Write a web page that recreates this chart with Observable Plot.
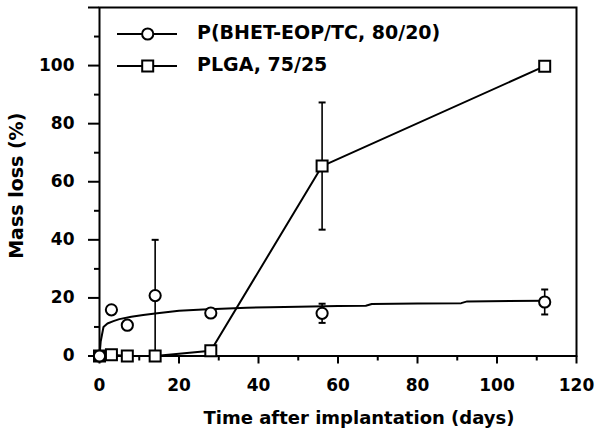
<!DOCTYPE html>
<html><head><meta charset="utf-8">
<script src="https://cdn.jsdelivr.net/npm/d3@7"></script>
<script src="https://cdn.jsdelivr.net/npm/@observablehq/plot@0.6"></script>
<style>
html,body{margin:0;padding:0;background:#fff;}
#chart{position:relative;width:600px;height:443px;overflow:hidden;}
#legend{position:absolute;left:0;top:0;}
</style></head><body>
<div id="chart"></div>
<script>
// ---- data ----
const circleDays = [0, 3, 7, 14, 28, 56, 112];
const circleLoss = [0, 15.9, 10.6, 20.8, 14.8, 14.7, 18.6];
const circleErr  = [0, 0, 0, 19.2, 0, 3.3, 4.3];

const fitDays = [0, 0.3, 1, 2, 3.5, 5, 8, 11, 14, 20, 26, 37, 43, 50, 60, 67, 68.5, 80, 91, 92.5, 112];
const fitLoss = [0, 5, 10, 11.2, 12, 12.7, 13.5, 14.1, 14.6, 15.6, 16, 16.6, 16.8, 17, 17.2, 17.3, 17.9, 18.1, 18.2, 18.8, 19];

const plgaDays = [0, 3, 7, 14, 28, 56, 112];
const plgaLoss = [0, 0.4, 0, 0, 1.8, 65.4, 99.8];
const plgaErr  = [0, 0, 0, 0, 0, 21.9, 0];

const xMajorTicks = [0, 20, 40, 60, 80, 100, 120];
const xTickLabels = ["0", "20", "40", "60", "80", "100", "120"];
const xMinorTicks = [10, 30, 50, 70, 90, 110];
const yMajorTicks = [0, 20, 40, 60, 80, 100];
const yTickLabels = ["0", "20", "40", "60", "80", "100"];
const yMinorTicks = [10, 30, 50, 70, 90, 110];
const yTopTick = [120];

const legendLabels = ["P(BHET-EOP/TC, 80/20)", "PLGA, 75/25"];
const xTitle = "Time after implantation (days)";
const yTitle = "Mass loss (%)";

// ---- build tables ----
const circleRows = circleDays.map((d, i) => ({x: d, y: circleLoss[i], e: circleErr[i]}));
const plgaRows = plgaDays.map((d, i) => ({x: d, y: plgaLoss[i], e: plgaErr[i]}));
const fitRows = fitDays.map((d, i) => ({x: d, y: fitLoss[i]}));
const errRows = [...circleRows, ...plgaRows].filter(r => r.e > 0)
  .map(r => ({x: r.x, lo: r.y - r.e, hi: r.y + r.e}));
const capRows = errRows.flatMap(r => [{x: r.x, y: r.lo}, {x: r.x, y: r.hi}]);

const capSymbol = {draw(context) { context.moveTo(-3.5, 0); context.lineTo(3.5, 0); }};

const chart = Plot.plot({
  width: 600, height: 443,
  marginLeft: 99, marginRight: 24, marginTop: 7, marginBottom: 87.5,
  x: {domain: [0, 120]},
  y: {domain: [0, 120]},
  style: {fontFamily: "'DejaVu Sans', sans-serif", fontWeight: "bold", fontSize: "17px", color: "#000", background: "#fff", overflow: "visible"},
  marks: [
    Plot.axisX({ticks: xMajorTicks, tickSize: 8, tickPadding: 15, strokeWidth: 2, label: null,
      tickFormat: d => xTickLabels[xMajorTicks.indexOf(d)]}),
    Plot.axisX({ticks: xMinorTicks, tickSize: 5, strokeWidth: 2, label: null, tickFormat: () => ""}),
    Plot.axisY({ticks: yMajorTicks, tickSize: 11, tickPadding: 14, strokeWidth: 2, label: null,
      tickFormat: d => yTickLabels[yMajorTicks.indexOf(d)]}),
    Plot.axisY({ticks: yMinorTicks, tickSize: 5, strokeWidth: 2, label: null, tickFormat: () => ""}),
    Plot.axisY({ticks: yTopTick, tickSize: 11, strokeWidth: 2, label: null, tickFormat: () => ""}),
    Plot.frame({stroke: "#000", strokeWidth: 2}),
    Plot.line(fitRows, {x: "x", y: "y", stroke: "#000", strokeWidth: 2}),
    Plot.line(plgaRows, {x: "x", y: "y", stroke: "#000", strokeWidth: 2}),
    Plot.ruleX(errRows, {x: "x", y1: "lo", y2: "hi", stroke: "#000", strokeWidth: 1.6}),
    Plot.dot(capRows, {x: "x", y: "y", symbol: capSymbol, stroke: "#000", strokeWidth: 2, fill: "none"}),
    Plot.dot(plgaRows, {x: "x", y: "y", symbol: "square", r: 6.2, fill: "#fff", stroke: "#000", strokeWidth: 2}),
    Plot.dot(circleRows, {x: "x", y: "y", r: 5.6, fill: "#fff", stroke: "#000", strokeWidth: 2}),
    Plot.text([xTitle], {text: d => d, frameAnchor: "bottom", textAnchor: "middle", dx: 21, dy: 68, fontSize: 18}),
    Plot.text([yTitle], {text: d => d, frameAnchor: "left", textAnchor: "middle", rotate: -90, dx: -83, dy: 4, fontSize: 19})
  ]
});
document.getElementById("chart").appendChild(chart);

// ---- legend overlay ----
const lg = d3.select("#chart").append("svg").attr("id", "legend")
  .attr("width", 600).attr("height", 443)
  .style("font-family", "'DejaVu Sans', sans-serif").style("font-weight", "bold");
legendLabels.forEach((label, i) => {
  const cy = 34 + 32 * i;
  const g = lg.append("g").attr("transform", `translate(0,${cy})`);
  g.append("line").attr("x1", 117).attr("x2", 177).attr("stroke", "#000").attr("stroke-width", 2);
  if (i === 0) g.append("circle").attr("cx", 147.7).attr("r", 5.6).attr("fill", "#fff").attr("stroke", "#000").attr("stroke-width", 2);
  else g.append("rect").attr("x", 147.7 - 5.5).attr("y", -5.5).attr("width", 11).attr("height", 11).attr("fill", "#fff").attr("stroke", "#000").attr("stroke-width", 2);
  g.append("text").attr("x", 197).attr("y", 4.5).attr("font-size", 19).attr("fill", "#000").text(label);
});
</script>
</body></html>
